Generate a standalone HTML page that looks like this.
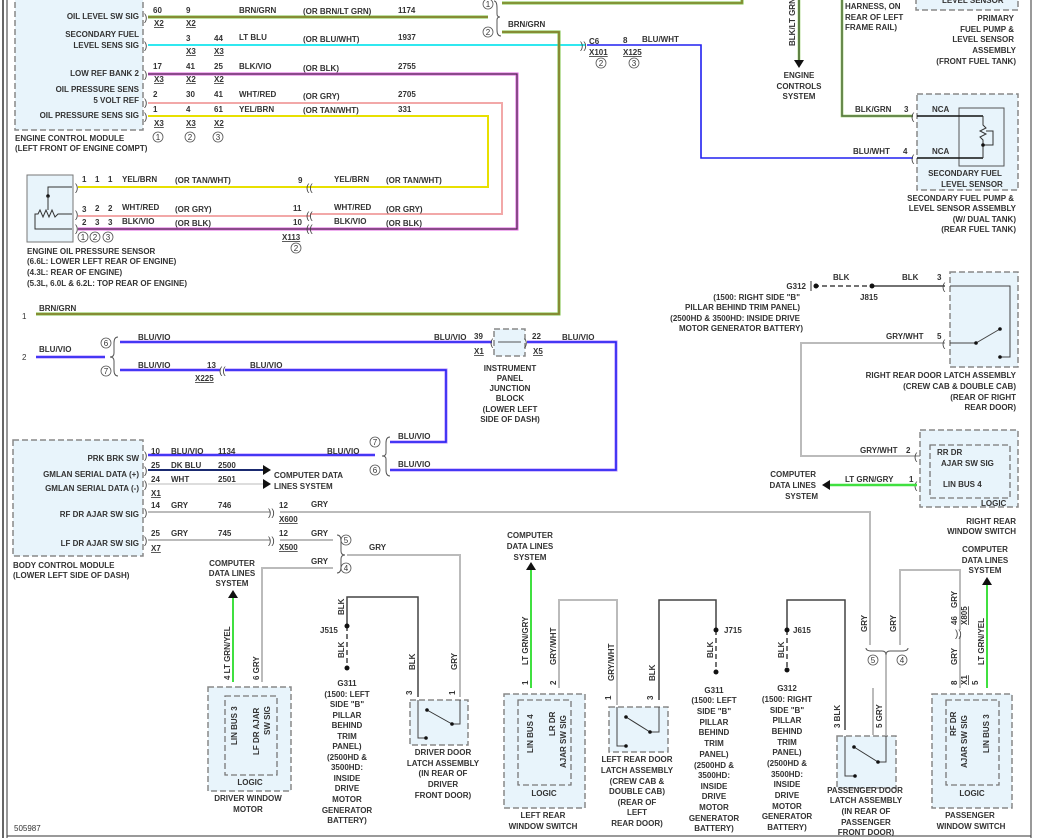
<!DOCTYPE html>
<html><head><meta charset="utf-8"><style>
html,body{margin:0;padding:0;background:#fff;}
svg{display:block}
text{font-family:"Liberation Sans",sans-serif;font-size:8px;font-weight:bold;fill:#333;}
.m{text-anchor:middle}.e{text-anchor:end}
.box{fill:#e8f4fb;stroke:#888;stroke-width:1.5;stroke-dasharray:6,3}
.in{fill:none;stroke:#777;stroke-width:1.3;stroke-dasharray:6,3}
.c{font-size:10px;font-weight:normal;fill:#444}
.u{text-decoration:underline}
</style></head><body>
<svg width="1038" height="838" viewBox="0 0 1038 838" xmlns="http://www.w3.org/2000/svg">
<rect width="1038" height="838" fill="#fff"/>
<line x1="3" y1="0" x2="3" y2="838" stroke="#333" stroke-width="1.5"/>
<line x1="7" y1="0" x2="7" y2="838" stroke="#333" stroke-width="1"/>
<line x1="1031" y1="0" x2="1031" y2="838" stroke="#333" stroke-width="1"/>
<line x1="7" y1="836" x2="1031" y2="836" stroke="#333" stroke-width="1"/>

<!-- ECM -->
<rect class="box" x="15" y="-5" width="128" height="135"/>
<text class="e" x="139" y="19">OIL LEVEL SW SIG</text>
<text class="e" x="139" y="37">SECONDARY FUEL</text>
<text class="e" x="139" y="48">LEVEL SENS SIG</text>
<text class="e" x="139" y="76">LOW REF BANK 2</text>
<text class="e" x="139" y="92">OIL PRESSURE SENS</text>
<text class="e" x="139" y="103">5 VOLT REF</text>
<text class="e" x="139" y="118">OIL PRESSURE SENS SIG</text>
<text x="15" y="141">ENGINE CONTROL MODULE</text>
<text x="15" y="151">(LEFT FRONT OF ENGINE COMPT)</text>

<!-- wires from ECM -->
<polyline points="148,17 488,17" fill="none" stroke="#7bc043" stroke-width="3"/>
<polyline points="148,17 488,17" fill="none" stroke="#8a7a30" stroke-width="1.5"/>
<line x1="148" y1="45" x2="585" y2="45" stroke="#30e8f0" stroke-width="2"/>
<polyline points="148,74 517,74 517,229 310,229" fill="none" stroke="#e060e0" stroke-width="3"/>
<polyline points="148,74 517,74 517,229 310,229" fill="none" stroke="#333" stroke-width="1"/>
<polyline points="148,103 502,103 502,214 310,214" fill="none" stroke="#f2a8a8" stroke-width="2"/>
<polyline points="148,116 488,116 488,187 310,187" fill="none" stroke="#e8e000" stroke-width="2"/>
<text class="c" x="144" y="21">)</text><text class="c" x="144" y="49">)</text><text class="c" x="144" y="78">)</text><text class="c" x="144" y="106">)</text><text class="c" x="144" y="120">)</text>

<text x="153" y="13">60</text><text x="186" y="13">9</text><text x="239" y="13">BRN/GRN</text><text x="303" y="14">(OR BRN/LT GRN)</text><text x="398" y="13">1174</text>
<text class="u" x="154" y="26">X2</text><text class="u" x="186" y="26">X2</text>
<text x="186" y="41">3</text><text x="214" y="41">44</text><text x="239" y="40">LT BLU</text><text x="303" y="42">(OR BLU/WHT)</text><text x="398" y="40">1937</text>
<text class="u" x="186" y="54">X3</text><text class="u" x="214" y="54">X3</text>
<text x="153" y="69">17</text><text x="186" y="69">41</text><text x="214" y="69">25</text><text x="239" y="69">BLK/VIO</text><text x="303" y="71">(OR BLK)</text><text x="398" y="69">2755</text>
<text class="u" x="154" y="82">X3</text><text class="u" x="186" y="82">X2</text><text class="u" x="214" y="82">X2</text>
<text x="153" y="97">2</text><text x="186" y="97">30</text><text x="214" y="97">41</text><text x="239" y="97">WHT/RED</text><text x="303" y="99">(OR GRY)</text><text x="398" y="97">2705</text>
<text x="153" y="112">1</text><text x="186" y="112">4</text><text x="214" y="112">61</text><text x="239" y="112">YEL/BRN</text><text x="303" y="113">(OR TAN/WHT)</text><text x="398" y="112">331</text>
<text class="u" x="154" y="126">X3</text><text class="u" x="186" y="126">X3</text><text class="u" x="214" y="126">X2</text>
<g fill="none" stroke="#555" stroke-width=".8"><circle cx="158" cy="137" r="5"/><circle cx="190" cy="137" r="5"/><circle cx="218" cy="137" r="5"/></g>
<text class="m" x="158" y="140" style="font-weight:normal">1</text><text class="m" x="190" y="140" style="font-weight:normal">2</text><text class="m" x="218" y="140" style="font-weight:normal">3</text>

<!-- top brace & BRN/GRN -->
<path d="M494,1 Q497,1 497,8 L497,14 Q497,17 500,17 Q497,17 497,20 L497,30 Q497,36 501,36" fill="none" stroke="#555" stroke-width="1"/>
<circle cx="488" cy="4" r="5" fill="none" stroke="#555" stroke-width=".8"/><text class="m" x="488" y="7" style="font-weight:normal">1</text>
<circle cx="488" cy="32" r="5" fill="none" stroke="#555" stroke-width=".8"/><text class="m" x="488" y="35" style="font-weight:normal">2</text>
<polyline points="502,3 742,3 742,0" fill="none" stroke="#7bc043" stroke-width="3"/><polyline points="502,3 742,3 742,0" fill="none" stroke="#8a7a30" stroke-width="1.3"/>
<polyline points="502,32 559,32 559,314 36,314" fill="none" stroke="#7bc043" stroke-width="3"/><polyline points="502,32 559,32 559,314 36,314" fill="none" stroke="#8a7a30" stroke-width="1.5"/>
<text x="508" y="27">BRN/GRN</text>
<text x="22" y="319" style="font-weight:normal">1</text><text x="39" y="311">BRN/GRN</text>

<!-- C6 / BLU/WHT -->
<text class="c" x="580" y="49">))</text>
<text x="589" y="44">C6</text><text x="623" y="43">8</text><text x="642" y="42">BLU/WHT</text>
<text class="u" x="589" y="55">X101</text><text class="u" x="623" y="55">X125</text>
<circle cx="601" cy="63" r="5" fill="none" stroke="#555" stroke-width=".8"/><text class="m" x="601" y="66" style="font-weight:normal">2</text>
<circle cx="634" cy="63" r="5" fill="none" stroke="#555" stroke-width=".8"/><text class="m" x="634" y="66" style="font-weight:normal">3</text>
<polyline points="587,45 701,45 701,158 913,158" fill="none" stroke="#2020f0" stroke-width="1.6"/>

<!-- engine controls -->
<line x1="799" y1="0" x2="799" y2="61" stroke="#7bc043" stroke-width="2.5"/><line x1="799" y1="0" x2="799" y2="61" stroke="#444" stroke-width="1"/>
<polygon points="794,60 804,60 799,68" fill="#111"/>
<text x="795" y="46" transform="rotate(-90 795 46)">BLK/LT GRN</text>
<text class="m" x="799" y="78">ENGINE</text><text class="m" x="799" y="89">CONTROLS</text><text class="m" x="799" y="99">SYSTEM</text>
<polyline points="842,0 842,116 913,116" fill="none" stroke="#7bc043" stroke-width="2.5"/><polyline points="842,0 842,116 913,116" fill="none" stroke="#555" stroke-width="1"/>
<text x="845" y="9">HARNESS, ON</text><text x="845" y="20">REAR OF LEFT</text><text x="845" y="30">FRAME RAIL)</text>
<rect class="box" x="916" y="-5" width="102" height="15"/>
<text x="942" y="3">LEVEL SENSOR</text>
<text class="e" x="1014" y="21">PRIMARY</text><text class="e" x="1014" y="32">FUEL PUMP &amp;</text><text class="e" x="1014" y="42">LEVEL SENSOR</text><text class="e" x="1016" y="53">ASSEMBLY</text><text class="e" x="1016" y="64">(FRONT FUEL TANK)</text>

<!-- secondary fuel -->
<rect class="box" x="917" y="94" width="101" height="96"/>
<rect x="959" y="108" width="45" height="58" fill="none" stroke="#555" stroke-width="1"/>
<text x="855" y="112">BLK/GRN</text><text x="904" y="112">3</text>
<text x="853" y="154">BLU/WHT</text><text x="903" y="154">4</text>
<text class="c" x="911" y="120">(</text><text class="c" x="911" y="162">(</text>
<text x="932" y="112">NCA</text><text x="932" y="154">NCA</text>
<line x1="917" y1="116" x2="983" y2="116" stroke="#111" stroke-width="1.5"/><line x1="917" y1="158" x2="983" y2="158" stroke="#111" stroke-width="1.5"/>
<polyline points="983,116 983,125 986,128 980,131 986,134 980,137 983,140 983,158" fill="none" stroke="#333" stroke-width="1"/>
<polyline points="986,131 993,131 993,145 983,145" fill="none" stroke="#333" stroke-width="1"/><circle cx="983" cy="145" r="1.8" fill="#111"/>
<text class="m" x="965" y="176">SECONDARY FUEL</text><text class="m" x="972" y="187">LEVEL SENSOR</text>
<text class="e" x="1014" y="201">SECONDARY FUEL PUMP &amp;</text><text class="e" x="1016" y="211">LEVEL SENSOR ASSEMBLY</text><text class="e" x="1016" y="222">(W/ DUAL TANK)</text><text class="e" x="1016" y="232">(REAR FUEL TANK)</text>

<!-- oil pressure sensor -->
<rect x="27" y="175" width="46" height="67" fill="#e8f4fb" stroke="#777" stroke-width="1"/>
<polyline points="72,187 48,187 48,200" fill="none" stroke="#333"/><circle cx="48" cy="196" r="1.8" fill="#111"/>
<polyline points="48,196 48,210" fill="none" stroke="#333"/>
<polyline points="35,221 35,214 38,214 40,210 43,217 46,210 49,217 52,210 55,217 58,214 72,214" fill="none" stroke="#333"/>
<polyline points="35,221 35,229 72,229" fill="none" stroke="#333"/>
<text class="c" x="75" y="191">)</text><text class="c" x="75" y="218">)</text><text class="c" x="75" y="232">)</text>
<line x1="78" y1="187" x2="310" y2="187" stroke="#e8e000" stroke-width="2"/>
<line x1="78" y1="216" x2="310" y2="216" stroke="#f2a8a8" stroke-width="2"/>
<line x1="78" y1="229" x2="310" y2="229" stroke="#e060e0" stroke-width="3"/><line x1="78" y1="229" x2="310" y2="229" stroke="#333" stroke-width="1"/>
<text x="82" y="182">1</text><text x="95" y="182">1</text><text x="108" y="182">1</text><text x="122" y="182">YEL/BRN</text><text x="175" y="183">(OR TAN/WHT)</text><text x="298" y="183">9</text>
<text x="82" y="212">3</text><text x="95" y="211">2</text><text x="108" y="211">2</text><text x="122" y="210">WHT/RED</text><text x="175" y="212">(OR GRY)</text><text x="293" y="211">11</text>
<text x="82" y="225">2</text><text x="95" y="225">3</text><text x="108" y="225">3</text><text x="122" y="224">BLK/VIO</text><text x="175" y="226">(OR BLK)</text><text x="293" y="225">10</text>
<text class="c" x="306" y="191">((</text><text class="c" x="306" y="219">((</text><text class="c" x="306" y="232">((</text>
<text x="334" y="182">YEL/BRN</text><text x="386" y="183">(OR TAN/WHT)</text>
<text x="334" y="210">WHT/RED</text><text x="386" y="212">(OR GRY)</text>
<text x="334" y="224">BLK/VIO</text><text x="386" y="226">(OR BLK)</text>
<text class="u" x="282" y="240">X113</text>
<circle cx="296" cy="248" r="5" fill="none" stroke="#555" stroke-width=".8"/><text class="m" x="296" y="251" style="font-weight:normal">2</text>
<g fill="none" stroke="#555" stroke-width=".8"><circle cx="83" cy="237" r="5"/><circle cx="95" cy="237" r="5"/><circle cx="108" cy="237" r="5"/></g>
<text class="m" x="83" y="240" style="font-weight:normal">1</text><text class="m" x="95" y="240" style="font-weight:normal">2</text><text class="m" x="108" y="240" style="font-weight:normal">3</text>
<text x="27" y="254">ENGINE OIL PRESSURE SENSOR</text>
<text x="27" y="264">(6.6L: LOWER LEFT REAR OF ENGINE)</text>
<text x="27" y="275">(4.3L: REAR OF ENGINE)</text>
<text x="27" y="286">(5.3L, 6.0L &amp; 6.2L: TOP REAR OF ENGINE)</text>

<!-- BLU/VIO -->
<g fill="none" stroke-width="3" stroke="#b080ff"><polyline points="36,357 105,357"/><polyline points="120,342 492,342"/><polyline points="120,370 220,370"/><polyline points="225,370 446,370 446,442 390,442"/><polyline points="527,342 616,342 616,470 390,470"/><polyline points="148,455 375,455"/></g>
<g fill="none" stroke-width="1.5" stroke="#2020f0"><polyline points="36,357 105,357"/><polyline points="120,342 492,342"/><polyline points="120,370 220,370"/><polyline points="225,370 446,370 446,442 390,442"/><polyline points="527,342 616,342 616,470 390,470"/><polyline points="148,455 375,455"/></g>
<text x="22" y="360" style="font-weight:normal">2</text><text x="39" y="352">BLU/VIO</text>
<path d="M118,337 Q114,337 114,343 L114,353 Q114,357 110,357 Q114,357 114,361 L114,370 Q114,376 118,376" fill="none" stroke="#555" stroke-width="1"/>
<circle cx="106" cy="343" r="5" fill="none" stroke="#555" stroke-width=".8"/><text class="m" x="106" y="346" style="font-weight:normal">6</text>
<circle cx="106" cy="371" r="5" fill="none" stroke="#555" stroke-width=".8"/><text class="m" x="106" y="374" style="font-weight:normal">7</text>
<text x="138" y="340">BLU/VIO</text><text x="138" y="368">BLU/VIO</text><text x="207" y="368">13</text><text class="u" x="195" y="381">X225</text><text class="c" x="219" y="374">((</text><text x="250" y="368">BLU/VIO</text>
<rect class="box" x="494" y="329" width="31" height="27"/>
<line x1="498" y1="342" x2="521" y2="342" stroke="#555"/><text class="c" x="490" y="346">(</text><text class="c" x="524" y="346">)</text>
<text x="434" y="340">BLU/VIO</text><text x="474" y="339">39</text><text class="u" x="474" y="354">X1</text>
<text x="532" y="339">22</text><text class="u" x="533" y="354">X5</text><text x="562" y="340">BLU/VIO</text>
<text class="m" x="510" y="371">INSTRUMENT</text><text class="m" x="510" y="381">PANEL</text><text class="m" x="510" y="391">JUNCTION</text><text class="m" x="510" y="401">BLOCK</text><text class="m" x="510" y="412">(LOWER LEFT</text><text class="m" x="510" y="422">SIDE OF DASH)</text>
<path d="M390,437 Q386,437 386,443 L386,453 Q386,456 382,456 Q386,456 386,459 L386,470 Q386,476 390,476" fill="none" stroke="#555" stroke-width="1"/>
<circle cx="375" cy="442" r="5" fill="none" stroke="#555" stroke-width=".8"/><text class="m" x="375" y="445" style="font-weight:normal">7</text>
<circle cx="375" cy="470" r="5" fill="none" stroke="#555" stroke-width=".8"/><text class="m" x="375" y="473" style="font-weight:normal">6</text>
<text x="398" y="439">BLU/VIO</text><text x="398" y="467">BLU/VIO</text>

<!-- BCM -->
<rect class="box" x="13" y="440" width="130" height="116"/>
<text class="e" x="139" y="461">PRK BRK SW</text>
<text class="e" x="139" y="477">GMLAN SERIAL DATA (+)</text>
<text class="e" x="139" y="491">GMLAN SERIAL DATA (-)</text>
<text class="e" x="139" y="517">RF DR AJAR SW SIG</text>
<text class="e" x="139" y="546">LF DR AJAR SW SIG</text>
<text x="13" y="568">BODY CONTROL MODULE</text><text x="13" y="578">(LOWER LEFT SIDE OF DASH)</text>
<text class="c" x="144" y="459">)</text><text class="c" x="144" y="474">)</text><text class="c" x="144" y="488">)</text><text class="c" x="144" y="516">)</text><text class="c" x="144" y="544">)</text>
<text x="151" y="454">10</text><text x="171" y="454">BLU/VIO</text><text x="218" y="454">1134</text><text x="327" y="454">BLU/VIO</text>
<line x1="148" y1="470" x2="264" y2="470" stroke="#1a2a70" stroke-width="2"/><polygon points="263,465 271,470 263,475" fill="#111"/>
<line x1="148" y1="484" x2="264" y2="484" stroke="#ddd" stroke-width="2"/><polygon points="263,479 271,484 263,489" fill="#111"/>
<text x="151" y="468">25</text><text x="171" y="468">DK BLU</text><text x="218" y="468">2500</text>
<text x="151" y="482">24</text><text x="171" y="482">WHT</text><text x="218" y="482">2501</text>
<text class="u" x="151" y="496">X1</text>
<text x="274" y="478">COMPUTER DATA</text><text x="274" y="489">LINES SYSTEM</text>

<!-- GRY wires -->
<g fill="none" stroke="#bbb" stroke-width="2">
<line x1="148" y1="512" x2="270" y2="512"/><polyline points="280,512 870,512 870,645"/>
<line x1="148" y1="540" x2="270" y2="540"/><line x1="280" y1="540" x2="333" y2="540"/>
<polyline points="347,555 460,555 460,697"/><polyline points="333,568 262,568 262,682"/>
<polyline points="559,688 559,600 617,600 617,705"/>
<polyline points="873,688 873,735"/>
<polyline points="900,645 900,570 960,570 960,630"/><line x1="960" y1="636" x2="960" y2="688"/>
<polyline points="945,343 801,343 801,456 945,456"/>
</g>
<text x="151" y="508">14</text><text x="171" y="508">GRY</text><text x="218" y="508">746</text><text x="279" y="508">12</text><text x="311" y="507">GRY</text><text class="u" x="279" y="522">X600</text><text class="c" x="268" y="516">))</text>
<text x="151" y="536">25</text><text x="171" y="536">GRY</text><text x="218" y="536">745</text><text x="279" y="536">12</text><text x="311" y="536">GRY</text><text class="u" x="279" y="550">X500</text><text class="c" x="268" y="544">))</text>
<text class="u" x="151" y="551">X7</text>
<path d="M337,535 Q341,535 341,541 L341,551 Q341,555 345,555 Q341,555 341,559 L341,567 Q341,573 337,573" fill="none" stroke="#555" stroke-width="1"/>
<circle cx="346" cy="540" r="5" fill="none" stroke="#555" stroke-width=".8"/><text class="m" x="346" y="543" style="font-weight:normal">5</text>
<circle cx="346" cy="568" r="5" fill="none" stroke="#555" stroke-width=".8"/><text class="m" x="346" y="571" style="font-weight:normal">4</text>
<text x="369" y="550">GRY</text><text x="311" y="564">GRY</text>

<!-- driver window motor -->
<line x1="233" y1="598" x2="233" y2="682" stroke="#40e040" stroke-width="2"/><polygon points="228,598 238,598 233,590" fill="#111"/>
<text class="m" x="232" y="566">COMPUTER</text><text class="m" x="232" y="576">DATA LINES</text><text class="m" x="232" y="586">SYSTEM</text>
<text x="230" y="680" transform="rotate(-90 230 680)">4  LT GRN/YEL</text>
<text x="259" y="680" transform="rotate(-90 259 680)">6  GRY</text>
<rect class="box" x="208" y="687" width="83" height="104"/>
<rect class="in" x="225" y="696" width="52" height="79"/>
<text x="237" y="745" transform="rotate(-90 237 745)">LIN BUS 3</text>
<text x="259" y="755" transform="rotate(-90 259 755)">LF DR AJAR</text>
<text x="270" y="735" transform="rotate(-90 270 735)">SW SIG</text>
<text class="m" x="250" y="785">LOGIC</text>
<text class="m" x="248" y="801">DRIVER WINDOW</text><text class="m" x="248" y="812">MOTOR</text>
<text x="14" y="831" style="font-weight:normal">505987</text>

<!-- grounds -->
<g fill="none" stroke="#444" stroke-width="1.5">
<polyline points="418,697 418,597 347,597 347,626"/>
<polyline points="659,700 659,600 716,600 716,630"/>
<polyline points="787,630 787,600 845,600 845,730"/>
<line x1="814" y1="286" x2="872" y2="286" stroke-dasharray="5,3"/><line x1="872" y1="286" x2="945" y2="286"/>
</g>
<g stroke="#444" stroke-width="1.5" stroke-dasharray="5,3"><line x1="347" y1="626" x2="347" y2="666"/><line x1="716" y1="630" x2="716" y2="670"/><line x1="787" y1="630" x2="787" y2="670"/></g>
<g fill="#111"><circle cx="347" cy="626" r="2.5"/><circle cx="347" cy="668" r="2.5"/><circle cx="716" cy="630" r="2.5"/><circle cx="716" cy="672" r="2.5"/><circle cx="787" cy="630" r="2.5"/><circle cx="787" cy="670" r="2.5"/><circle cx="872" cy="286" r="2.5"/><circle cx="816" cy="286" r="2.5"/></g>
<text x="320" y="633">J515</text><text x="724" y="633">J715</text><text x="793" y="633">J615</text>
<text x="344" y="615" transform="rotate(-90 344 615)">BLK</text><text x="344" y="658" transform="rotate(-90 344 658)">BLK</text>
<text x="713" y="658" transform="rotate(-90 713 658)">BLK</text><text x="784" y="658" transform="rotate(-90 784 658)">BLK</text>
<g class="m">
<text class="m" x="347" y="686">G311</text><text class="m" x="347" y="697">(1500: LEFT</text><text class="m" x="347" y="707">SIDE "B"</text><text class="m" x="347" y="718">PILLAR</text><text class="m" x="347" y="728">BEHIND</text><text class="m" x="347" y="739">TRIM</text><text class="m" x="347" y="749">PANEL)</text><text class="m" x="347" y="760">(2500HD &amp;</text><text class="m" x="347" y="770">3500HD:</text><text class="m" x="347" y="781">INSIDE</text><text class="m" x="347" y="791">DRIVE</text><text class="m" x="347" y="802">MOTOR</text><text class="m" x="347" y="813">GENERATOR</text><text class="m" x="347" y="823">BATTERY)</text>
<text class="m" x="714" y="693">G311</text><text class="m" x="714" y="703">(1500: LEFT</text><text class="m" x="714" y="714">SIDE "B"</text><text class="m" x="714" y="725">PILLAR</text><text class="m" x="714" y="735">BEHIND</text><text class="m" x="714" y="746">TRIM</text><text class="m" x="714" y="757">PANEL)</text><text class="m" x="714" y="768">(2500HD &amp;</text><text class="m" x="714" y="778">3500HD:</text><text class="m" x="714" y="789">INSIDE</text><text class="m" x="714" y="799">DRIVE</text><text class="m" x="714" y="810">MOTOR</text><text class="m" x="714" y="821">GENERATOR</text><text class="m" x="714" y="831">BATTERY)</text>
<text class="m" x="787" y="691">G312</text><text class="m" x="787" y="702">(1500: RIGHT</text><text class="m" x="787" y="713">SIDE "B"</text><text class="m" x="787" y="723">PILLAR</text><text class="m" x="787" y="734">BEHIND</text><text class="m" x="787" y="745">TRIM</text><text class="m" x="787" y="755">PANEL)</text><text class="m" x="787" y="766">(2500HD &amp;</text><text class="m" x="787" y="777">3500HD:</text><text class="m" x="787" y="787">INSIDE</text><text class="m" x="787" y="798">DRIVE</text><text class="m" x="787" y="809">MOTOR</text><text class="m" x="787" y="819">GENERATOR</text><text class="m" x="787" y="830">BATTERY)</text>
</g>

<!-- driver latch -->
<rect class="box" x="410" y="700" width="58" height="45"/>
<polyline points="418,700 418,738 426,738" fill="none" stroke="#444"/><polyline points="460,700 460,724 452,724" fill="none" stroke="#444"/>
<line x1="427" y1="710" x2="452" y2="724" stroke="#333"/><circle cx="427" cy="710" r="1.8" fill="#111"/><circle cx="452" cy="724" r="1.8" fill="#111"/><circle cx="426" cy="738" r="1.8" fill="#111"/>
<text x="415" y="670" transform="rotate(-90 415 670)">BLK</text><text x="457" y="670" transform="rotate(-90 457 670)">GRY</text>
<text x="412" y="695" transform="rotate(-90 412 695)">3</text><text x="455" y="695" transform="rotate(-90 455 695)">1</text>
<text class="m" x="443" y="755">DRIVER DOOR</text><text class="m" x="443" y="766">LATCH ASSEMBLY</text><text class="m" x="443" y="776">(IN REAR OF</text><text class="m" x="443" y="787">DRIVER</text><text class="m" x="443" y="798">FRONT DOOR)</text>

<!-- left rear window switch -->
<line x1="531" y1="570" x2="531" y2="688" stroke="#40e040" stroke-width="2"/><polygon points="526,570 536,570 531,562" fill="#111"/>
<text class="m" x="530" y="538">COMPUTER</text><text class="m" x="530" y="549">DATA LINES</text><text class="m" x="530" y="560">SYSTEM</text>
<text x="528" y="665" transform="rotate(-90 528 665)">LT GRN/GRY</text><text x="556" y="665" transform="rotate(-90 556 665)">GRY/WHT</text>
<text x="528" y="685" transform="rotate(-90 528 685)">1</text><text x="556" y="685" transform="rotate(-90 556 685)">2</text>
<rect class="box" x="504" y="694" width="81" height="114"/>
<rect class="in" x="518" y="700" width="53" height="85"/>
<text x="533" y="753" transform="rotate(-90 533 753)">LIN BUS 4</text>
<text x="555" y="736" transform="rotate(-90 555 736)">LR DR</text>
<text x="566" y="768" transform="rotate(-90 566 768)">AJAR SW SIG</text>
<text class="m" x="544" y="796">LOGIC</text>
<text class="m" x="543" y="818">LEFT REAR</text><text class="m" x="543" y="829">WINDOW SWITCH</text>

<!-- left rear latch -->
<rect class="box" x="609" y="707" width="59" height="45"/>
<polyline points="617,707 617,746 626,746" fill="none" stroke="#444"/><polyline points="659,707 659,732 650,732" fill="none" stroke="#444"/>
<line x1="626" y1="717" x2="650" y2="732" stroke="#333"/><circle cx="626" cy="717" r="1.8" fill="#111"/><circle cx="650" cy="732" r="1.8" fill="#111"/><circle cx="626" cy="746" r="1.8" fill="#111"/>
<text x="614" y="681" transform="rotate(-90 614 681)">GRY/WHT</text><text x="655" y="681" transform="rotate(-90 655 681)">BLK</text>
<text x="611" y="700" transform="rotate(-90 611 700)">1</text><text x="653" y="700" transform="rotate(-90 653 700)">3</text>
<text class="m" x="637" y="762">LEFT REAR DOOR</text><text class="m" x="637" y="773">LATCH ASSEMBLY</text><text class="m" x="637" y="784">(CREW CAB &amp;</text><text class="m" x="637" y="794">DOUBLE CAB)</text><text class="m" x="637" y="805">(REAR OF</text><text class="m" x="637" y="815">LEFT</text><text class="m" x="637" y="826">REAR DOOR)</text>

<!-- passenger latch -->
<path d="M866,648 Q866,651 872,651 L882,651 Q886,651 886,655 Q886,651 890,651 L902,651 Q908,651 908,648" fill="none" stroke="#555" stroke-width="1"/>
<line x1="886" y1="655" x2="886" y2="735" stroke="#bbb" stroke-width="2"/>
<circle cx="873" cy="660" r="5" fill="none" stroke="#555" stroke-width=".8"/><text class="m" x="873" y="663" style="font-weight:normal">5</text>
<circle cx="902" cy="660" r="5" fill="none" stroke="#555" stroke-width=".8"/><text class="m" x="902" y="663" style="font-weight:normal">4</text>
<text x="867" y="632" transform="rotate(-90 867 632)">GRY</text><text x="896" y="632" transform="rotate(-90 896 632)">GRY</text>
<rect class="box" x="837" y="736" width="59" height="52"/>
<polyline points="845,736 845,776 855,776" fill="none" stroke="#444"/><polyline points="886,736 886,762 878,762" fill="none" stroke="#444"/>
<line x1="854" y1="747" x2="878" y2="762" stroke="#333"/><circle cx="854" cy="747" r="1.8" fill="#111"/><circle cx="878" cy="762" r="1.8" fill="#111"/><circle cx="855" cy="776" r="1.8" fill="#111"/>
<text x="840" y="728" transform="rotate(-90 840 728)">3  BLK</text><text x="882" y="728" transform="rotate(-90 882 728)">5  GRY</text>
<text class="m" x="865" y="793">PASSENGER DOOR</text><text class="m" x="866" y="803">LATCH ASSEMBLY</text><text class="m" x="866" y="814">(IN REAR OF</text><text class="m" x="866" y="825">PASSENGER</text><text class="m" x="866" y="835">FRONT DOOR)</text>

<!-- passenger window switch -->
<text class="c" x="955" y="637">))</text>
<text x="957" y="608" transform="rotate(-90 957 608)">GRY</text><text x="957" y="625" transform="rotate(-90 957 625)">46</text><text class="u" x="967" y="625" transform="rotate(-90 967 625)">X805</text>
<text x="957" y="665" transform="rotate(-90 957 665)">GRY</text><text x="957" y="685" transform="rotate(-90 957 685)">8</text><text class="u" x="967" y="685" transform="rotate(-90 967 685)">X1</text><text x="978" y="685" transform="rotate(-90 978 685)">5</text>
<line x1="987" y1="585" x2="987" y2="688" stroke="#40e040" stroke-width="2"/><polygon points="982,585 992,585 987,577" fill="#111"/>
<text x="984" y="665" transform="rotate(-90 984 665)">LT GRN/YEL</text>
<text class="m" x="985" y="552">COMPUTER</text><text class="m" x="985" y="563">DATA LINES</text><text class="m" x="985" y="573">SYSTEM</text>
<rect class="box" x="932" y="694" width="80" height="114"/>
<rect class="in" x="946" y="700" width="53" height="85"/>
<text x="956" y="736" transform="rotate(-90 956 736)">RF DR</text>
<text x="967" y="768" transform="rotate(-90 967 768)">AJAR SW SIG</text>
<text x="989" y="753" transform="rotate(-90 989 753)">LIN BUS 3</text>
<text class="m" x="972" y="796">LOGIC</text>
<text class="m" x="970" y="818">PASSENGER</text><text class="m" x="971" y="829">WINDOW SWITCH</text>

<!-- right rear latch -->
<text class="e" x="806" y="289">G312</text><line x1="811" y1="281" x2="811" y2="291" stroke="#333"/>
<text x="833" y="280">BLK</text><text x="902" y="280">BLK</text><text x="937" y="280">3</text><text x="860" y="300">J815</text>
<text class="e" x="800" y="300">(1500: RIGHT SIDE "B"</text><text class="e" x="800" y="310">PILLAR BEHIND TRIM PANEL)</text><text class="e" x="800" y="321">(2500HD &amp; 3500HD: INSIDE DRIVE</text><text class="e" x="803" y="331">MOTOR GENERATOR BATTERY)</text>
<rect class="box" x="950" y="272" width="68" height="95"/>
<text class="c" x="942" y="290">(</text><text class="c" x="942" y="347">(</text>
<polyline points="950,286 1010,286 1010,357 1000,357" fill="none" stroke="#444"/>
<polyline points="950,343 976,343 1000,329" fill="none" stroke="#444"/>
<circle cx="976" cy="343" r="1.8" fill="#111"/><circle cx="1000" cy="329" r="1.8" fill="#111"/><circle cx="1000" cy="357" r="1.8" fill="#111"/>
<text x="886" y="339">GRY/WHT</text><text x="937" y="339">5</text>
<text class="e" x="1016" y="378">RIGHT REAR DOOR LATCH ASSEMBLY</text><text class="e" x="1016" y="389">(CREW CAB &amp; DOUBLE CAB)</text><text class="e" x="1016" y="400">(REAR OF RIGHT</text><text class="e" x="1016" y="410">REAR DOOR)</text>

<!-- right rear window switch -->
<rect class="box" x="920" y="430" width="98" height="77"/>
<rect class="in" x="930" y="445" width="80" height="53"/>
<text class="c" x="914" y="460">(</text><text class="c" x="914" y="489">(</text>
<text x="937" y="455">RR DR</text><text x="941" y="466">AJAR SW SIG</text><text x="943" y="487">LIN BUS 4</text><text x="981" y="506">LOGIC</text>
<text x="860" y="453">GRY/WHT</text><text x="906" y="453">2</text>
<text x="845" y="482">LT GRN/GRY</text><text x="909" y="482">1</text>
<line x1="830" y1="485" x2="917" y2="485" stroke="#40e040" stroke-width="2.5"/><polygon points="830,480 830,490 822,485" fill="#111"/>
<text class="e" x="816" y="477">COMPUTER</text><text class="e" x="816" y="488">DATA LINES</text><text class="e" x="818" y="499">SYSTEM</text>
<text class="e" x="1016" y="524">RIGHT REAR</text><text class="e" x="1016" y="534">WINDOW SWITCH</text>
</svg>
</body></html>
